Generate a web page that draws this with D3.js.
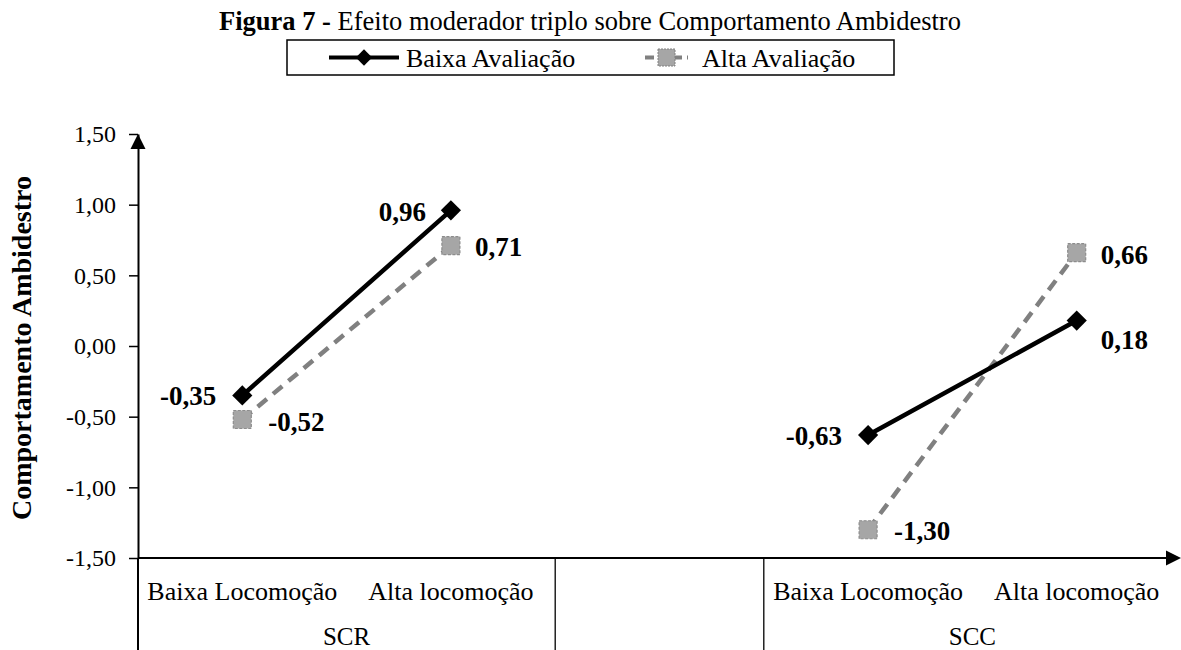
<!DOCTYPE html>
<html>
<head>
<meta charset="utf-8">
<script src="https://cdn.jsdelivr.net/npm/d3@7"></script>
<style>
  body { margin: 0; background: #fff; }
  text { font-family: "Liberation Serif", "Times New Roman", serif; fill: #000; }
</style>
</head>
<body>
<svg id="chart" width="1181" height="650"></svg>
<script>
// Category slots along the x axis (the middle slot is an empty spacer between groups)
const slotKeys   = ["SCR-baixa", "SCR-alta", "gap", "SCC-baixa", "SCC-alta"];
const slotLabels = ["Baixa Locomoção", "Alta locomoção", "", "Baixa Locomoção", "Alta locomoção"];
const groupNames = ["SCR", "", "SCC"];
const groupSlots = [["SCR-baixa", "SCR-alta"], ["gap"], ["SCC-baixa", "SCC-alta"]];

// Series values (null = no point in the spacer slot)
const seriesNames     = ["Baixa Avaliação", "Alta Avaliação"];
const baixaAvaliacao  = [-0.35, 0.96, null, -0.63, 0.18];
const altaAvaliacao   = [-0.52, 0.71, null, -1.30, 0.66];

// Y axis ticks
const yTicks = [-1.5, -1.0, -0.5, 0.0, 0.5, 1.0, 1.5];

// Where each value label sits relative to its marker: [dx, dy, anchor]
const baixaLabelPos = [[-26, 10, "end"], [-25, 11, "end"], null, [-26, 10, "end"], [24, 28, "start"]];
const altaLabelPos  = [[26, 12, "start"], [24, 10, "start"], null, [26, 10, "start"], [24, 11, "start"]];

const svg = d3.select("#chart");
const W = 1181, H = 650;
const pLeft = 138, pRight = 1181, pTop = 134, pBottom = 558;

const x = d3.scaleBand().domain(slotKeys).range([pLeft, pRight]).paddingInner(0).paddingOuter(0);
const y = d3.scaleLinear().domain([-1.5, 1.5]).range([pBottom, pTop]);
const fmt = v => d3.format(".2f")(v).replace(".", ",").replace("−", "-");

// Title
const title = svg.append("text")
  .attr("x", 590).attr("y", 30)
  .attr("text-anchor", "middle")
  .style("font-size", "26.5px");
title.append("tspan").style("font-weight", "bold").text("Figura 7 - ");
title.append("tspan").text("Efeito moderador triplo sobre Comportamento Ambidestro");

// Legend
const leg = svg.append("g");
leg.append("rect").attr("x", 287).attr("y", 40).attr("width", 607).attr("height", 35)
  .attr("fill", "#fff").attr("stroke", "#000").attr("stroke-width", 1.5);
leg.append("line").attr("x1", 329).attr("x2", 399).attr("y1", 57.5).attr("y2", 57.5)
  .attr("stroke", "#000").attr("stroke-width", 4);
leg.append("path").attr("d", d3.symbol(d3.symbolDiamond2, 170)())
  .attr("transform", "translate(364,57.5)").attr("fill", "#000");
leg.append("text").attr("x", 406).attr("y", 67).style("font-size", "26px").text(seriesNames[0]);
leg.append("line").attr("x1", 645).attr("x2", 688).attr("y1", 57.5).attr("y2", 57.5)
  .attr("stroke", "#808080").attr("stroke-width", 4).attr("stroke-dasharray", "9,5");
leg.append("rect").attr("x", 658).attr("y", 49).attr("width", 17).attr("height", 17)
  .attr("fill", "#a6a6a6").attr("stroke", "#808080").attr("stroke-width", 1).attr("stroke-dasharray", "2,1");
leg.append("text").attr("x", 702).attr("y", 67).style("font-size", "26px").text(seriesNames[1]);

// Y axis
const yAxis = svg.append("g").attr("transform", `translate(${pLeft},0)`)
  .call(d3.axisLeft(y).tickValues(yTicks).tickSize(9).tickSizeOuter(0).tickPadding(13).tickFormat(fmt));
yAxis.select(".domain").attr("stroke", "#000").attr("stroke-width", 2);
yAxis.selectAll(".tick line").attr("stroke", "#000").attr("stroke-width", 1.5);
yAxis.selectAll(".tick text").style("font-size", "24px")
  .style("font-family", "'Liberation Serif', 'Times New Roman', serif").attr("fill", "#000");

// Arrow heads
svg.append("path").attr("d", `M${pLeft},${pTop} L${pLeft - 7.5},${pTop + 15} L${pLeft + 7.5},${pTop + 15} Z`).attr("fill", "#000");
svg.append("path").attr("d", `M${pRight},${pBottom} L${pRight - 15},${pBottom - 7.5} L${pRight - 15},${pBottom + 7.5} Z`).attr("fill", "#000");

// Y axis continuation into the category label area
svg.append("line").attr("x1", pLeft).attr("x2", pLeft).attr("y1", pBottom).attr("y2", H)
  .attr("stroke", "#000").attr("stroke-width", 2);

// X axis line
svg.append("line").attr("x1", pLeft).attr("x2", pRight - 12).attr("y1", pBottom).attr("y2", pBottom)
  .attr("stroke", "#000").attr("stroke-width", 2);

// Y axis title
svg.append("text")
  .attr("transform", `translate(31,${(pTop + pBottom) / 2 + 2}) rotate(-90)`)
  .attr("text-anchor", "middle")
  .style("font-size", "28px").style("font-weight", "bold")
  .text("Comportamento Ambidestro");

// Group separators
groupSlots.forEach((slots, i) => {
  if (i === 0) return;
  const gx = x(slots[0]);
  svg.append("line").attr("x1", gx).attr("x2", gx).attr("y1", pBottom).attr("y2", H)
    .attr("stroke", "#000").attr("stroke-width", 1.3);
});

// Category labels
svg.append("g").selectAll("text").data(slotKeys).join("text")
  .attr("x", d => x(d) + x.bandwidth() / 2)
  .attr("y", 600)
  .attr("text-anchor", "middle")
  .style("font-size", "26px")
  .text((d, i) => slotLabels[i]);

// Group labels
svg.append("g").selectAll("text").data(groupSlots).join("text")
  .attr("x", d => (x(d[0]) + x(d[d.length - 1]) + x.bandwidth()) / 2)
  .attr("y", 645)
  .attr("text-anchor", "middle")
  .style("font-size", "25px")
  .text((d, i) => groupNames[i]);

// Series lines
const line = d3.line()
  .defined(d => d.v != null)
  .x(d => x(d.k) + x.bandwidth() / 2)
  .y(d => y(d.v));
const toPts = vals => vals.map((v, i) => ({ k: slotKeys[i], v }));

svg.append("path").datum(toPts(altaAvaliacao)).attr("d", line)
  .attr("fill", "none").attr("stroke", "#808080").attr("stroke-width", 4.5)
  .attr("stroke-dasharray", "12,8");
svg.append("path").datum(toPts(baixaAvaliacao)).attr("d", line)
  .attr("fill", "none").attr("stroke", "#000").attr("stroke-width", 4.5);

// Markers
const altaPts = toPts(altaAvaliacao).filter(d => d.v != null);
svg.append("g").selectAll("rect").data(altaPts).join("rect")
  .attr("x", d => x(d.k) + x.bandwidth() / 2 - 9)
  .attr("y", d => y(d.v) - 9)
  .attr("width", 18).attr("height", 18)
  .attr("fill", "#a6a6a6").attr("stroke", "#8c8c8c").attr("stroke-width", 1.2)
  .attr("stroke-dasharray", "3,1.5");

const baixaPts = toPts(baixaAvaliacao).filter(d => d.v != null);
svg.append("g").selectAll("path").data(baixaPts).join("path")
  .attr("d", d3.symbol(d3.symbolDiamond2, 260)())
  .attr("transform", d => `translate(${x(d.k) + x.bandwidth() / 2},${y(d.v)})`)
  .attr("fill", "#000");

// Value labels
function drawLabels(vals, pos) {
  vals.forEach((v, i) => {
    if (v == null) return;
    const [dx, dy, anchor] = pos[i];
    svg.append("text")
      .attr("x", x(slotKeys[i]) + x.bandwidth() / 2 + dx)
      .attr("y", y(v) + dy)
      .attr("text-anchor", anchor)
      .style("font-size", "27px").style("font-weight", "bold")
      .text(fmt(v));
  });
}
drawLabels(baixaAvaliacao, baixaLabelPos);
drawLabels(altaAvaliacao, altaLabelPos);
</script>
</body>
</html>
